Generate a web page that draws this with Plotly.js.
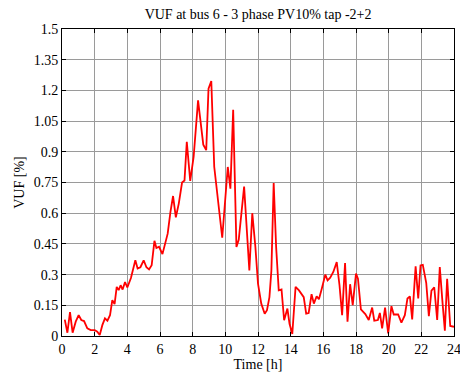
<!DOCTYPE html>
<html>
<head>
<meta charset="utf-8">
<script src="https://cdn.plot.ly/plotly-3.0.1.min.js"></script>
<style>html,body{margin:0;padding:0;background:#fff;}#chart{width:460px;height:378px;}</style>
</head>
<body>
<div id="chart"></div>
<script>
const timeH = [0.17,0.33,0.49,0.65,0.84,1.02,1.18,1.35,1.55,1.76,2.0,2.16,2.31,2.47,2.63,2.78,2.94,3.08,3.22,3.35,3.47,3.59,3.71,3.86,4.0,
4.22,4.49,4.63,4.8,5.0,5.17,5.33,5.49,5.66,5.78,5.94,6.15,6.27,6.47,6.64,6.8,6.97,7.15,7.35,7.5,7.64,7.85,8.06,8.33,8.65,8.83,8.97,9.14,9.32,9.52,9.81,
10.15,10.31,10.48,10.68,10.82,11.15,11.47,11.65,11.84,12.0,12.2,12.41,12.55,12.7,12.82,12.96,13.11,13.27,13.44,13.6,13.8,13.93,14.1,14.3,14.51,14.8,14.95,
15.1,15.28,15.42,15.59,15.73,15.9,16.12,16.26,16.42,16.61,16.82,16.99,17.15,17.33,17.48,17.64,17.8,18.0,18.12,18.3,18.57,18.78,18.99,19.12,19.34,19.46,19.6,19.78,19.97,
20.17,20.31,20.58,20.78,20.99,21.15,21.3,21.44,21.65,21.81,21.95,22.09,22.3,22.46,22.62,22.79,22.97,23.13,23.28,23.44,23.58,23.77,24.0];
const vuf = [0.08,0.016,0.117,0.016,0.07,0.102,0.078,0.073,0.037,0.029,0.029,0.021,0.005,0.053,0.086,0.075,0.102,0.175,0.156,0.24,0.224,0.248,0.227,0.264,0.237,
0.283,0.37,0.33,0.336,0.37,0.336,0.325,0.346,0.465,0.43,0.436,0.4,0.44,0.5,0.606,0.684,0.58,0.647,0.75,0.76,0.949,0.758,0.876,1.151,0.935,0.908,1.208,1.246,0.827,0.68,0.48,
0.826,0.72,1.105,0.435,0.47,0.73,0.32,0.6,0.435,0.256,0.158,0.109,0.126,0.19,0.32,0.748,0.435,0.223,0.227,0.077,0.134,0.06,0.01,0.24,0.223,0.19,0.109,
0.112,0.204,0.158,0.194,0.18,0.23,0.3,0.272,0.285,0.313,0.361,0.248,0.102,0.356,0.07,0.253,0.151,0.305,0.28,0.13,0.107,0.078,0.139,0.075,0.078,0.113,0.037,0.139,0.013,
0.146,0.105,0.105,0.065,0.102,0.183,0.194,0.081,0.34,0.183,0.345,0.348,0.26,0.097,0.222,0.238,0.078,0.337,0.18,0.026,0.28,0.049,0.045];
const xTicks = [0,2,4,6,8,10,12,14,16,18,20,22,24];
const yTicks = [0,0.15,0.3,0.45,0.6,0.75,0.9,1.05,1.2,1.35,1.5];
const yTickText = ["0","0.15","0.3","0.45","0.6","0.75","0.9","1.05","1.2","1.35","1.5"];

const font = {family: "Liberation Serif", size: 14, color: "#000"};
const axisCommon = {
  showline: true, linecolor: "#000", linewidth: 1, mirror: "ticks",
  ticks: "inside", ticklen: 4, tickcolor: "#000",
  showgrid: true, gridcolor: "#9a9a9a", gridwidth: 1,
  zeroline: false, tickfont: font, ticklabeloverflow: "allow"
};
Plotly.newPlot("chart", [{
  x: timeH, y: vuf, type: "scatter", mode: "lines",
  line: {color: "#ff0000", width: 1.8}, hoverinfo: "skip"
}], {
  width: 460, height: 378,
  margin: {l: 62, r: 6, t: 29, b: 42},
  paper_bgcolor: "#fff", plot_bgcolor: "#fff",
  showlegend: false,
  font: font,
  title: {text: "VUF at bus 6 - 3 phase PV10% tap -2+2", font: font, x: 0.561, xanchor: "center", y: 0.963, yanchor: "middle"},
  xaxis: Object.assign({}, axisCommon, {range: [0, 24], tickvals: xTicks, ticktext: xTicks.map(String),
    title: {text: "Time [h]", font: font, standoff: 3}}),
  yaxis: Object.assign({}, axisCommon, {range: [0, 1.5], tickvals: yTicks, ticktext: yTickText,
    title: {text: "VUF [%]", font: font, standoff: 5}})
}, {staticPlot: true});
</script>
</body>
</html>
